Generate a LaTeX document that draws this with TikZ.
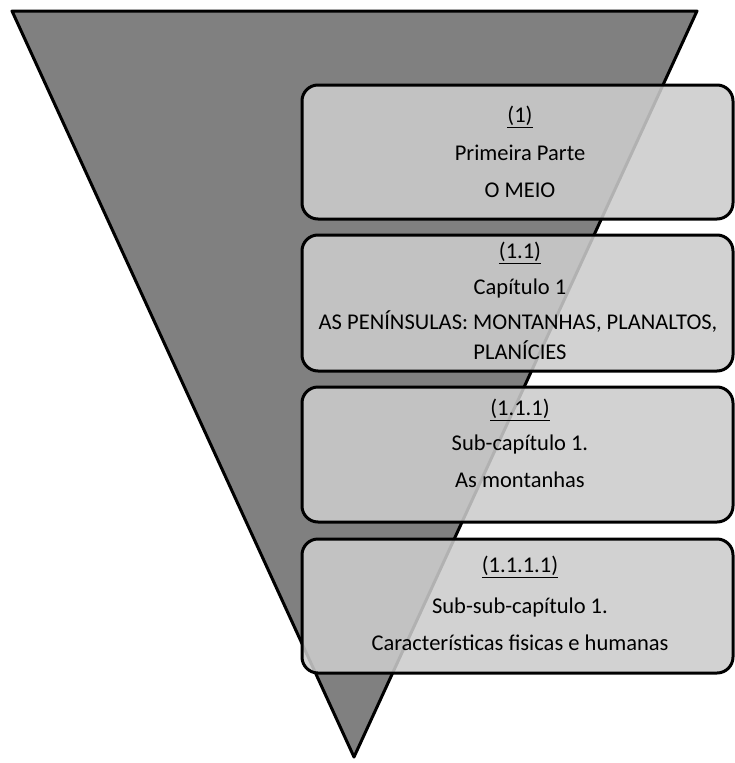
\documentclass[tikz,border=0pt]{standalone}
\usepackage{fontspec}
\setmainfont{Carlito}
\begin{document}
\begin{tikzpicture}[x=1pt,y=-1pt,
  funnel/.style={draw=black,line width=3pt,fill=black!50,line join=round},
  levelbox/.style={draw=black,line width=3pt,fill=black!20,fill opacity=0.87,rounded corners=16pt},
  lbl/.style={font=\fontsize{22.5}{26}\selectfont,inner sep=0pt,anchor=center,align=center}]
\useasboundingbox (0,0) rectangle (735,763);
\fill[white] (0,0) rectangle (735,763);
\draw[funnel] (12,11) -- (697,11) -- (354,757) -- cycle;
\path[levelbox] (302,85) rectangle (733,219);
\path[levelbox] (302,235) rectangle (733,371);
\path[levelbox] (302,387) rectangle (733,522);
\path[levelbox] (302,539) rectangle (733,673);
\node[lbl] (a1) at (520,117) {\underline{(1)}};
\node[lbl] (a2) at (520,153) {Primeira Parte};
\node[lbl] (a3) at (520,190) {O MEIO};
\node[lbl] (b1) at (520,253) {\underline{(1.1)}};
\node[lbl] (b2) at (520,288) {Capítulo 1};
\node[lbl] (b3) at (518,322) {AS PENÍNSULAS: MONTANHAS, PLANALTOS,};
\node[lbl] (b4) at (520,350) {PLANÍCIES};
\node[lbl] (c1) at (520,410) {\underline{(1.1.1)}};
\node[lbl] (c2) at (520,444) {Sub-capítulo 1.};
\node[lbl] (c3) at (520,480) {As montanhas};
\node[lbl] (d1) at (520,567) {\underline{(1.1.1.1)}};
\node[lbl] (d2) at (520,607) {Sub-sub-capítulo 1.};
\node[lbl] (d3) at (520,643) {Características fisicas e humanas};
\end{tikzpicture}
\end{document}
